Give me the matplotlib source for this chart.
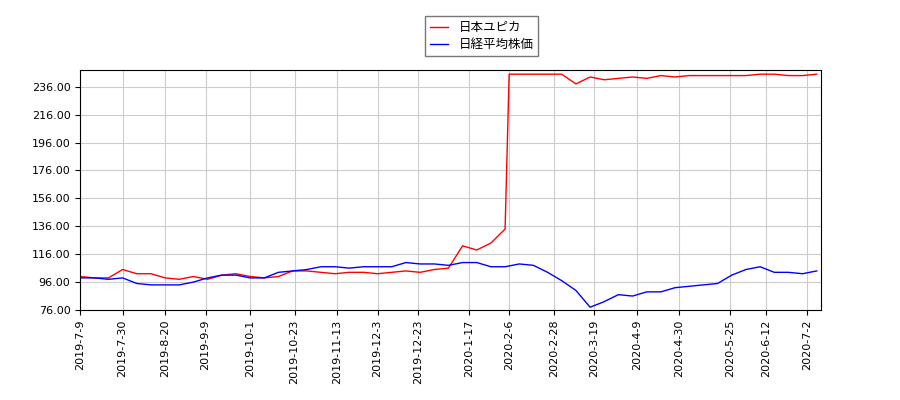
import pandas as pd
import numpy as np
import matplotlib.pyplot as plt

# weekly sample dates (2019-07-09 .. 2020-07-07)
dates = pd.date_range("2019-07-09", periods=53, freq="7D")

yupiter = [100, 99, 99, 105, 102, 102, 99, 98, 100, 98, 101, 102, 100, 99, 100, 104,
           104, 103, 102, 103, 103, 102, 103, 104, 103, 105, 106, 122, 119, 124, 134,
           245, 245, 245, 245, 238, 243, 241, 242, 243, 242, 244, 243, 244, 244, 244,
           244, 244, 245, 245, 244, 244, 245]
nikkei = [99, 99, 98, 99, 95, 94, 94, 94, 96, 99, 101, 101, 99, 99, 103, 104, 105,
          107, 107, 106, 107, 107, 107, 110, 109, 109, 108, 110, 110, 107, 107, 109,
          108, 103, 97, 90, 78, 82, 87, 86, 89, 89, 92, 93, 94, 95, 101, 105, 107,
          103, 103, 102, 104]

# the steep jump happened within a couple of days
jump_date = pd.Timestamp("2020-02-06")
jump_value = 245

tick_labels = ["2019-7-9", "2019-7-30", "2019-8-20", "2019-9-9", "2019-10-1",
               "2019-10-23", "2019-11-13", "2019-12-3", "2019-12-23", "2020-1-17",
               "2020-2-6", "2020-2-28", "2020-3-19", "2020-4-9", "2020-4-30",
               "2020-5-25", "2020-6-12", "2020-7-2"]

red_dates = list(dates[:31]) + [jump_date] + list(dates[31:])
red_vals = yupiter[:31] + [jump_value] + yupiter[31:]

fig = plt.figure(figsize=(9, 4), dpi=100)
ax = fig.add_axes([0.089, 0.225, 0.823, 0.6])
ax.plot(red_dates, red_vals, color="red", lw=1, label="日本ユピカ")
ax.plot(dates, nikkei, color="blue", lw=1, label="日経平均株価")

ax.set_ylim(76, 248)
ax.set_yticks(np.arange(76, 237, 20))
ax.yaxis.set_major_formatter(plt.FormatStrFormatter("%.2f"))
ax.set_xlim(pd.Timestamp("2019-07-09"), pd.Timestamp("2020-07-09"))
ax.set_xticks([pd.Timestamp(t) for t in tick_labels])
ax.set_xticklabels(tick_labels, rotation=90)
ax.tick_params(labelsize=8)
ax.grid(True, color="#cccccc")
leg = fig.legend(loc="upper center", bbox_to_anchor=(0.535, 0.975), fancybox=False,
                 edgecolor="#555555", handlelength=1.5, borderpad=0.4, labelspacing=0.3,
                 prop={"family": ["Noto Sans CJK JP", "DejaVu Sans"], "size": 9})

plt.savefig("out.png", dpi=100)
